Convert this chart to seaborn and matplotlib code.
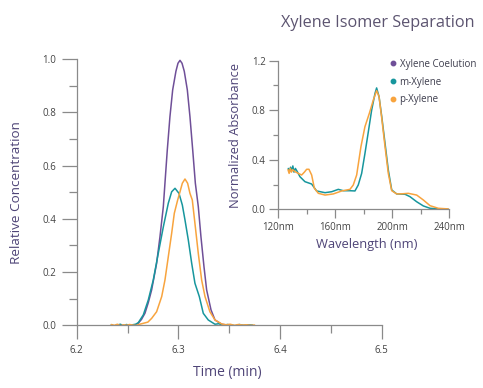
import pandas as pd
import seaborn as sns
import matplotlib.pyplot as plt
from matplotlib.lines import Line2D
from matplotlib.ticker import MultipleLocator

# Chromatogram (time in min, relative concentration)
coel_t = [6.258, 6.2606, 6.2637, 6.2671, 6.2704, 6.2737, 6.2786, 6.2819, 6.2852, 6.2868,
          6.2891, 6.2917, 6.2944, 6.2976, 6.2996, 6.3016, 6.3036, 6.3058, 6.3088, 6.3114,
          6.3141, 6.3167, 6.3196, 6.3222, 6.3252, 6.3278, 6.3321, 6.336, 6.3426, 6.348]
coel_v = [0.002, 0.008, 0.022, 0.045, 0.085, 0.133, 0.233, 0.333, 0.446, 0.534,
          0.659, 0.784, 0.885, 0.955, 0.985, 0.996, 0.985, 0.955, 0.885, 0.784,
          0.659, 0.534, 0.446, 0.333, 0.220, 0.133, 0.058, 0.020, 0.004, 0.001]

meta_t = [6.234, 6.237, 6.240, 6.243, 6.246, 6.249, 6.252, 6.255, 6.258, 6.2606,
          6.2655, 6.2704, 6.2753, 6.2802, 6.2852, 6.2901, 6.2934, 6.2967, 6.3006, 6.3039,
          6.3065, 6.3098, 6.3131, 6.3163, 6.3206, 6.3245, 6.3294, 6.3327, 6.336, 6.340,
          6.344, 6.348, 6.352, 6.356, 6.360, 6.364, 6.368, 6.373]
meta_v = [0.002, -0.003, 0.001, 0.004, -0.002, 0.003, -0.001, 0.002, 0.004, 0.010,
          0.039, 0.095, 0.170, 0.270, 0.370, 0.459, 0.502, 0.515, 0.496, 0.452,
          0.396, 0.320, 0.233, 0.158, 0.108, 0.045, 0.020, 0.012, 0.004, 0.006,
          -0.002, 0.003, 0.001, -0.002, 0.003, 0.000, 0.002, 0.001]

para_t = [6.234, 6.237, 6.240, 6.243, 6.246, 6.249, 6.252, 6.255, 6.258, 6.262,
          6.266, 6.270, 6.2737, 6.2786, 6.2836, 6.2868, 6.2901, 6.2934, 6.296, 6.2993,
          6.3016, 6.3039, 6.3065, 6.3091, 6.3114, 6.3137, 6.3163, 6.3196, 6.3229, 6.3262,
          6.331, 6.336, 6.3426, 6.347, 6.351, 6.355, 6.359, 6.363, 6.367, 6.371, 6.375]
para_v = [0.003, 0.000, 0.004, -0.002, 0.002, 0.000, 0.003, 0.001, -0.001, 0.004,
          0.008, 0.012, 0.026, 0.051, 0.108, 0.170, 0.258, 0.346, 0.421, 0.471,
          0.502, 0.534, 0.550, 0.534, 0.496, 0.471, 0.383, 0.270, 0.170, 0.108,
          0.051, 0.020, 0.005, 0.002, 0.004, 0.000, 0.003, 0.001, 0.002, 0.000, 0.001]

# Absorbance spectra (nm, normalized absorbance)
meta_nm = [127.0, 127.8, 128.6, 129.4, 130.2, 131.0, 132.0, 133.5, 135.2, 138.7,
           143.4, 146.9, 152.8, 157.5, 162.1, 165.6, 170.3, 173.8, 176.1, 178.5,
           180.8, 183.2, 185.5, 187.9, 189.0, 190.7, 192.6, 194.9, 197.2, 199.6,
           203.1, 209.0, 212.4, 217.1, 221.8, 226.5, 232.3, 239.3]
meta_abs = [0.33, 0.30, 0.34, 0.31, 0.35, 0.30, 0.33, 0.30, 0.263, 0.223,
            0.204, 0.148, 0.134, 0.142, 0.161, 0.150, 0.150, 0.148, 0.196, 0.29,
            0.45, 0.627, 0.80, 0.937, 0.98, 0.91, 0.748, 0.533, 0.317, 0.156,
            0.124, 0.121, 0.102, 0.061, 0.027, 0.008, 0.003, 0.0]

para_nm = [126.8, 127.6, 128.4, 129.2, 130.0, 131.7, 134.0, 136.4, 138.3, 139.9,
           141.5, 143.4, 145.3, 148.1, 152.8, 158.6, 164.5, 170.3, 172.6, 175.0,
           178.0, 180.8, 183.9, 186.7, 189.0, 190.7, 192.6, 194.9, 197.2, 199.6,
           203.1, 207.0, 211.2, 217.1, 221.8, 226.5, 232.3, 239.3]
para_abs = [0.32, 0.29, 0.33, 0.30, 0.32, 0.304, 0.29, 0.277, 0.30, 0.323,
            0.323, 0.277, 0.17, 0.129, 0.115, 0.124, 0.148, 0.161, 0.196, 0.277,
            0.506, 0.667, 0.775, 0.883, 0.958, 0.91, 0.735, 0.506, 0.29, 0.15,
            0.124, 0.125, 0.129, 0.115, 0.075, 0.029, 0.008, 0.003]

names = ["Xylene Coelution", "m-Xylene", "p-Xylene"]
colors = ["#6f4f98", "#17969d", "#f8a43e"]
palette = dict(zip(names, colors))

chrom = pd.concat([
    pd.DataFrame({"t": coel_t, "v": coel_v, "series": names[0]}),
    pd.DataFrame({"t": meta_t, "v": meta_v, "series": names[1]}),
    pd.DataFrame({"t": para_t, "v": para_v, "series": names[2]}),
])
spec = pd.concat([
    pd.DataFrame({"nm": meta_nm, "a": meta_abs, "series": names[1]}),
    pd.DataFrame({"nm": para_nm, "a": para_abs, "series": names[2]}),
])

sns.set_style("white")
plt.rcParams["font.family"] = ["Open Sans", "DejaVu Sans"]

axis_col = "#8a8a8a"
tick_col = "#444444"
label_col = "#4e4477"

fig = plt.figure(figsize=(4.83, 3.88), dpi=100)
ax = fig.add_axes([0.1588, 0.1616, 0.6315, 0.6856])
ins = fig.add_axes([0.5762, 0.4606, 0.354, 0.383])
ins.patch.set_alpha(0)

sns.lineplot(data=chrom, x="t", y="v", hue="series", palette=palette,
             estimator=None, sort=False, legend=False, linewidth=1.1, ax=ax)
sns.lineplot(data=spec, x="nm", y="a", hue="series", palette=palette,
             estimator=None, sort=False, legend=False, linewidth=1.1, ax=ins)

# main axes
ax.set_xlim(6.2, 6.5)
ax.set_ylim(0, 1.0)
ax.xaxis.set_major_locator(MultipleLocator(0.1))
ax.xaxis.set_minor_locator(MultipleLocator(0.05))
ax.yaxis.set_major_locator(MultipleLocator(0.2))
ax.yaxis.set_minor_locator(MultipleLocator(0.1))
ax.set_xticklabels([f"{v:.1f}" for v in ax.get_xticks()])
ax.set_yticklabels([f"{v:.1f}" for v in ax.get_yticks()])
ax.tick_params(axis="x", which="major", length=10, width=0.9, color=axis_col,
               labelcolor=tick_col, labelsize=7, pad=4.5)
ax.tick_params(axis="x", which="minor", length=5.8, width=0.9, color=axis_col)
ax.tick_params(axis="y", which="major", length=10.8, width=0.9, color=axis_col,
               labelcolor=tick_col, labelsize=7, pad=4)
ax.tick_params(axis="y", which="minor", length=5.8, width=0.9, color=axis_col)
ax.tick_params(which="both", bottom=True, left=True)
for s in ["top", "right"]:
    ax.spines[s].set_visible(False)
for s in ["left", "bottom"]:
    ax.spines[s].set_color(axis_col)
    ax.spines[s].set_linewidth(0.9)
ax.set_xlabel("Time (min)", fontsize=10, color=label_col)
ax.set_ylabel("Relative Concentration", fontsize=9.7, color=label_col)
ax.xaxis.label.set_verticalalignment("center")
ax.yaxis.label.set_verticalalignment("center")
ax.xaxis.set_label_coords(0.493, -0.1756)
ax.yaxis.set_label_coords(-0.196, 0.5)

# inset axes
ins.set_xlim(120, 240)
ins.set_ylim(0, 1.2)
ins.xaxis.set_major_locator(MultipleLocator(40))
ins.xaxis.set_minor_locator(MultipleLocator(20))
ins.yaxis.set_major_locator(MultipleLocator(0.4))
ins.yaxis.set_minor_locator(MultipleLocator(0.2))
ins.set_xticklabels([f"{int(v)}nm" for v in ins.get_xticks()])
ins.set_yticklabels([f"{v:.1f}" for v in ins.get_yticks()])
ins.tick_params(which="major", length=6.5, width=0.9, color=axis_col,
                labelcolor=tick_col, labelsize=7, pad=2.5)
ins.tick_params(which="minor", length=3.6, width=0.9, color=axis_col)
ins.tick_params(which="both", bottom=True, left=True)
for s in ["top", "right"]:
    ins.spines[s].set_visible(False)
for s in ["left", "bottom"]:
    ins.spines[s].set_color(axis_col)
    ins.spines[s].set_linewidth(0.9)
ins.set_xlabel("Wavelength (nm)", fontsize=9.3, color=label_col)
ins.set_ylabel("Normalized Absorbance", fontsize=9.3, color=label_col)
ins.xaxis.label.set_verticalalignment("center")
ins.yaxis.label.set_verticalalignment("center")
ins.xaxis.set_label_coords(0.519, -0.24)
ins.yaxis.set_label_coords(-0.253, 0.495)

handles = [Line2D([], [], marker="o", linestyle="", markersize=3.2,
                  color=c, label=n) for n, c in zip(names, colors)]
leg = ins.legend(handles=handles, loc="upper left", bbox_to_anchor=(0.655, 1.013),
                 frameon=False, fontsize=7, handlelength=0.5, handletextpad=0.45,
                 labelspacing=0.7, borderpad=0, borderaxespad=0)
for t in leg.get_texts():
    t.set_color("#3d3d4d")

fig.text(0.983, 0.9407, "Xylene Isomer Separation", ha="right", va="center",
         fontsize=11.7, color="#5c5470")

fig.savefig("out.png", dpi=100)
